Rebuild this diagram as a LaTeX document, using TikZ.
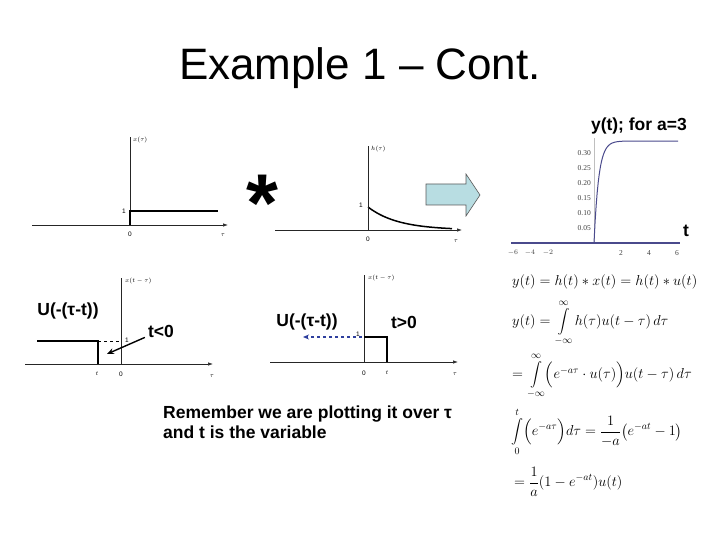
\documentclass[tikz,border=0pt]{standalone}
\usepackage{amsmath}
\usepackage{fontspec}
\setmainfont{Liberation Sans}
\newfontfamily\scanfont{Liberation Serif}
\usetikzlibrary{arrows.meta,calc}
\definecolor{arrowfill}{HTML}{B8DDE2}
\definecolor{arrowedge}{HTML}{5A5A5A}
\definecolor{plotblue}{HTML}{4A4A8C}
\definecolor{shiftblue}{HTML}{2E3F9E}
\tikzset{
  axis/.style={black!85, line width=0.7pt, -{Latex[length=5pt,width=3.5pt]}},
  vaxis/.style={black!85, line width=0.7pt},
  sig/.style={line width=1.8pt},
  tick/.style={font=\fontsize{6.5}{7}\selectfont, inner sep=1pt},
  mtick/.style={font=\scanfont\fontsize{7.5}{8}\selectfont, text=black!75, inner sep=0pt},
  bold/.style={font=\bfseries\fontsize{17.5}{20}\selectfont, inner sep=0pt},
  eqn/.style={font=\fontsize{14}{17}\selectfont, anchor=west, inner sep=0pt},
  pointer/.style={-{Stealth[length=7pt,width=6pt]}, line width=1.4pt},
}
\newcommand{\scanaxes}[5]{% x0, x1, y of axis, x of vertical axis, y top
  \draw[axis] (#1,#3) -- (#2,#3);
  \draw[vaxis] (#4,#3) -- (#4,#5);}
\newcommand{\sigint}{\mathop{\vcenter{\hbox{\fontsize{12}{12}\selectfont$\displaystyle\int$}}}\limits}

\begin{document}
\begin{tikzpicture}[x=1pt, y=-1pt]
  \useasboundingbox (0,0) rectangle (720,540);
  \node[font=\fontsize{44}{50}\selectfont] (title) at (360,68) {Example 1 -- Cont.};

  % x(tau): unit step
  \scanaxes{32}{228}{225}{130}{137}
  \draw[sig] (130,225) -- (130,211) -- (218,211);
  \node[tick, anchor=east] (xone) at (127,211) {1};
  \node[tick] (xzero) at (130,234) {0};
  \node[tick] (xtau) at (223,235) {$\tau$};
  \node[tick, anchor=west] (xlab) at (132,140) {$x(\tau)$};

  \node[font=\bfseries\fontsize{82}{82}\selectfont, inner sep=0pt] (conv) at (262,203) {*};

  % h(tau): decaying exponential
  \scanaxes{275}{462}{230}{368}{146}
  \draw[sig, line width=1.5pt] plot[domain=0:84, samples=40] ({368+\x},{230-23*exp(-\x/30)});
  \draw[vaxis] (368,230) -- (368,207);
  \node[tick, anchor=east] (hone) at (364,205) {1};
  \node[tick] (hzero) at (368,239) {0};
  \node[tick] (htau) at (456,241) {$\tau$};
  \node[tick, anchor=west] (hlab) at (370,149) {$h(\tau)$};

  \draw[arrowedge, fill=arrowfill, line width=0.6pt]
    (426,184) -- (466,184) -- (466,174) -- (480,195) -- (466,216) -- (466,205) -- (426,205) -- cycle;

  % y(t) for a=3
  \node[bold, anchor=east] (ytitle) at (687,126) {y(t); for a=3};
  \draw[black!25, line width=0.5pt] (594,243) -- (594,138);
  \foreach \v/\yy in {0.30/153, 0.25/168, 0.20/183, 0.15/198, 0.10/213, 0.05/228}
    \node[mtick, anchor=east] at (591,\yy) {\v};
  \foreach \v/\xx in {$-6$/513, $-4$/530, $-2$/548, 2/621, 4/649, 6/677}
    \node[mtick] at (\xx,253) {\v};
  \draw[plotblue, line width=1.1pt] (511,243) -- (680,243);
  \draw[plotblue, line width=1pt] plot[domain=0:6, samples=80] ({594+14*\x},{243-102*(1-exp(-3*\x))});
  \node[bold] (tvar) at (686,231) {t};

  % x(t-tau), t<0
  \scanaxes{25}{213}{364}{121}{278}
  \draw[sig] (37,341) -- (98,341) -- (98,364);
  \draw[line width=1pt, dashed] (98,341) -- (121,341);
  \node[tick, anchor=west] (lone) at (124,340) {1};
  \node[tick] (lt) at (97,374) {$t$};
  \node[tick] (lzero) at (121,374) {0};
  \node[tick] (ltau) at (212,376) {$\tau$};
  \node[tick, anchor=west] (llab) at (124,281) {$x(t-\tau)$};
  \node[bold] (lstep) at (68,311) {U(-(τ-t))};
  \node[bold] (lneg) at (161,331) {t{<}0};
  \coordinate (lhit) at (107,354);
  \draw[pointer] (lneg.south west) ++(-3,0) -- (lhit);

  % x(t-tau), t>0
  \scanaxes{270}{458}{362}{364}{275}
  \draw[sig] (364,337) -- (387,337) -- (387,362);
  \node[tick, anchor=east] (rone) at (361,334) {1};
  \node[tick] (rzero) at (364,373) {0};
  \node[tick] (rt) at (387,373) {$t$};
  \node[tick] (rtau) at (455,374) {$\tau$};
  \node[tick, anchor=west] (rlab) at (367,278) {$x(t-\tau)$};
  \node[bold] (rstep) at (307,322) {U(-(τ-t))};
  \node[bold] (rpos) at (404,322) {t{>}0};
  \coordinate (rfrom) at (362,337);
  \coordinate (rto) at (303,337);
  \draw[shiftblue, line width=1.2pt, dashed, -{Stealth[length=6pt,width=5pt]}] (rfrom) -- (rto);

  \node[bold, anchor=north west, align=left] (note) at (163,406)
    {Remember we are plotting it over τ\\and t is the variable};

  % derivation
  \node[eqn] (eqa) at (512,282) {$y(t)=h(t)*x(t)=h(t)*u(t)$};
  \node[eqn] (eqb) at (512,323) {$y(t)=\sigint_{-\infty}^{\infty}h(\tau)u(t-\tau)\,d\tau$};
  \node[eqn] (eqc) at (512,376) {$=\sigint_{-\infty}^{\infty}\Bigl(e^{-a\tau}\cdot u(\tau)\Bigr)u(t-\tau)\,d\tau$};
  \node[eqn] (eqd) at (511,432) {$\displaystyle\sigint_{0}^{t}\Bigl(e^{-a\tau}\Bigr)d\tau=\frac{1}{-a}\bigl(e^{-at}-1\bigr)$};
  \node[eqn] (eqe) at (514,482) {$\displaystyle=\frac{1}{a}(1-e^{-at})u(t)$};
\end{tikzpicture}
\end{document}
